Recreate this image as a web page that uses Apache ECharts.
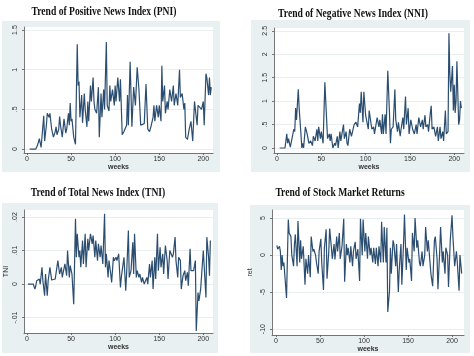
<!DOCTYPE html>
<html><head><meta charset="utf-8">
<script src="https://cdn.jsdelivr.net/npm/echarts@6/dist/echarts.min.js"></script>
<style>html,body{margin:0;padding:0;background:#fff}#c{width:474px;height:356px}</style>
</head><body><div id="c"></div>
<script>
const xTicks = [0, 50, 100, 150, 200];
const pniTicks = [0, 0.5, 1, 1.5];
const nniTicks = [0, 0.5, 1, 1.5, 2, 2.5];
const tniTicks = [-0.01, 0, 0.01, 0.02];
const retTicks = [-10, -5, 0, 5];

const titles = ['Trend of Positive News Index (PNI)', 'Trend of Negative News Index (NNI)', 'Trend of Total News Index (TNI)', 'Trend of Stock Market Returns'];

const pniWeeks = [3,10,12,14,16,17,19,20,22,23,25,26,28,30,32,33,34,36,37,38,40,42,44,45,47,48,49,50,51,53,55,57,58,59,60,62,63,65,66,68,69,70,72,73,75,76,77,79,81,82,84,85,87,88,90,91,93,94,95,97,99,100,101,103,105,106,108,110,112,113,114,115,117,119,121,123,125,127,129,131,133,135,137,139,141,143,144,145,147,149,150,152,153,154,156,157,159,160,162,164,166,167,169,171,173,174,176,178,179,180,182,184,186,188,190,191,193,194,196,198,200,201,203,204,206,207,208,209];
const pniValues = [0,0,0.05,0.13,0.02,0,0.42,0.1,0.3,0.45,0.4,0.45,0.25,0.15,0.22,0.28,0.18,0.25,0.41,0.3,0.15,0.38,0.2,0.25,0.45,0.3,0.58,0.35,0.38,0.15,0.06,1.32,0.8,0.85,0.4,0.68,0.33,0.7,0.5,0.28,0.6,0.35,0.8,0.6,0.9,0.6,0.5,0.45,0.78,0.15,0.7,0.4,0.75,0.5,1.35,0.55,0.48,0.8,0.6,0.75,0.55,0.8,0.6,0.9,0.6,0.88,0.18,0.22,0.2,0.3,0.68,0.3,1.1,0.28,0.78,0.55,1.03,0.75,0.3,0.3,0.32,0.82,0.25,0.22,0.3,0.4,0.55,0.35,0.55,0.4,0.55,0.35,1.05,0.6,0.8,0.45,0.6,0.5,0.75,0.6,0.8,0.55,0.7,0.55,1.0,0.65,0.7,0.5,0.58,0.15,0.12,0.25,0.35,0.1,0.6,0.5,0.3,0.55,0.55,0.5,0.6,0.3,0.95,0.9,0.68,0.9,0.68,0.78];

const nniWeeks = [3,9,11,12,13,15,17,19,20,21,22,24,25,27,28,29,30,32,34,36,38,40,41,43,45,46,47,49,50,52,54,56,57,59,60,61,63,65,66,68,69,71,72,75,76,78,79,80,82,84,87,89,91,93,94,95,97,98,100,101,103,104,106,107,109,110,112,113,115,116,118,119,120,122,123,125,127,128,129,131,133,134,136,137,139,140,142,143,145,146,148,149,151,153,155,157,158,160,162,164,165,167,168,170,171,173,174,175,177,179,181,182,184,185,187,188,190,191,193,194,195,196,198,199,200,201,202,203,205,206,207,208];
const nniValues = [0,0,0.3,0.1,0.2,0.02,0,0.4,0.35,0.85,0.6,1.25,0.85,0.3,0,0.1,0,0.45,0.3,0.1,0.15,0.05,0.25,0.15,0.4,0.15,0.45,0.2,0.35,0.1,1.4,0.6,0.2,0.3,0.15,0.3,0,0.1,0.05,0.25,0,0.35,0.15,0.5,0.2,0.35,0.1,0.05,0.4,0.25,0.5,0.55,0.45,0.95,0.75,1.2,0.55,1.2,0.7,0.6,0.4,0.8,0.8,0.4,0.45,0.3,0.3,0.65,0.45,0.6,0.3,0.72,0.3,0.72,0.3,1.65,0.7,0.1,0.4,0.45,1.25,0.6,0.35,0.55,0.25,0.4,0.65,0.4,1.1,0.5,0.85,0.3,0.6,0.4,0.3,0.5,0.3,0.65,0.45,0.6,0.4,0.7,0.45,0.5,0.35,0.75,0.9,0.4,0.45,0.25,0.45,0.15,0.45,0.2,0.35,0.15,0.8,0.3,0.35,2.45,1.6,1.2,1.75,0.8,1.35,0.75,1.0,1.85,0.5,0.6,1.0,0.85];

const tniWeeks = [1,7,9,10,11,12,14,15,17,18,20,21,23,24,26,28,30,32,34,35,37,39,40,42,43,45,46,48,49,51,53,55,56,57,59,60,61,63,64,66,67,69,70,72,74,75,77,78,80,81,83,84,86,88,89,90,92,93,95,96,98,99,101,102,104,106,107,109,110,112,113,115,116,118,120,121,122,124,125,127,128,130,131,133,135,136,137,139,140,142,143,145,146,148,149,151,152,154,155,157,159,160,162,163,165,166,168,169,171,172,174,175,177,179,180,182,183,185,186,188,189,191,192,194,195,197,198,200,201,203,204,206,207,208];
const tniValues = [0,0,-0.0015,-0.0005,0.001,0.0005,0.0015,0,0.005,0.001,-0.0035,0.003,-0.0035,0.001,0.005,0.0012,0.001,0.0015,0.0015,0.007,0.003,0.005,0.002,0.0015,0.006,0.0025,0.01,0.002,0.0055,0.003,-0.006,0.0195,0.008,0.015,0.008,0.01,0.005,0.013,0.006,0.015,0.005,0.0135,0.01,0.015,0.012,0.0145,0.008,0.013,0.007,0.012,0.008,0.0115,0.006,0.021,0.005,0.009,0.002,0.007,0.003,0.0005,0.008,0.007,0.008,0.007,0.009,-0.001,0.002,0.002,0.008,-0.002,0.003,0.016,0.002,0.004,0.0125,0.003,0.015,0.002,0.004,0.002,0.003,0.0005,0.002,0,-0.0005,0.002,0,0.006,0.002,0.007,-0.0015,0.008,0.0015,0.015,0.004,0.011,0.005,0.009,0.003,0.0115,0.007,0.0015,0.01,0.01,0.008,0.009,0.014,0.007,0.002,0.008,0.007,-0.0015,0.0025,0.004,0.001,0.0035,-0.0005,0.0105,0.004,0.0045,0.004,0.007,-0.014,-0.0025,-0.005,-0.0015,-0.001,0.01,0.0095,-0.004,0.014,0.008,0.0025,0.013];

const retWeeks = [1,2,4,5,6,7,8,9,10,12,14,15,17,18,20,21,22,24,25,27,28,29,31,33,34,36,37,39,40,42,43,45,46,48,49,51,52,54,55,57,58,60,61,63,64,66,67,69,70,72,73,75,77,78,80,81,82,84,85,87,88,90,91,93,95,96,98,99,101,102,104,105,107,108,110,111,113,114,116,117,119,120,122,123,125,126,127,129,130,131,133,134,136,137,139,140,142,143,145,146,148,149,151,152,154,155,157,158,160,161,163,164,166,167,169,170,172,173,175,176,178,180,181,183,184,186,187,189,190,192,193,195,196,198,200,201,203,205,206,208,209,211];
const retValues = [1.3,0.8,1.2,0.5,-2.0,0,-1.5,-1.0,-1.2,-5.8,4.8,3.0,2.5,0,-1.5,1.5,2.8,-1.5,4.6,-1.0,2.0,-0.5,1.2,-4.0,-0.5,-2.5,0,-3.0,2.5,0.5,0.8,0,-1.0,-2.5,0.5,2.2,-1.0,-4.7,1.0,3.5,-3.2,0.5,3.6,1.0,-0.5,1.5,-0.6,2.5,0.5,3.0,-0.5,1.2,4.9,-3.6,1.5,0,1.0,-1.0,1.2,-1.5,0.5,1.8,-0.5,0.8,-3.5,4.9,0,4.8,0.5,3.0,-0.5,2.5,0,1.0,-1.0,1.0,-1.2,1.0,-1.5,1.2,-1.0,4.5,-1.0,3.8,-1.0,3.7,-7.7,-4.8,1.0,-2.5,2.0,1.5,-1.5,1.5,-5.0,-2.0,1.5,-4.0,1.8,5.5,-2.0,1.0,-1.0,-0.5,-3.5,3.0,0.5,5.0,1.0,2.0,-1.0,-1.5,0.5,-1.5,0,3.8,0.5,2.0,-1.0,-2.5,-4.2,2.0,2.5,-0.5,-4.6,0.5,3.8,-1.0,0.5,-2.5,1.0,0,-4.3,2.0,5.4,2.5,-1.5,0.5,-1.0,-4.8,0,-2.5];

function zip(w, v) { return w.map((x, i) => [x, v[i]]); }
function fmt(v) { return String(v).replace(/^(-?)0\./, '$1.'); }

const LINE = '#2b4e70';
const AX = '#555';
const FONT = 'Liberation Sans';

const grids = [
  {left: 24, top: 27, width: 189, height: 126},
  {left: 274, top: 28, width: 190, height: 125},
  {left: 24, top: 210, width: 189, height: 123},
  {left: 272, top: 210, width: 192, height: 125}
];
const frames = [[2, 21, 218, 151], [251, 20, 219, 152], [2, 203, 216, 150], [250, 205, 220, 148]];
const titlePos = [[104, 12], [353, 14], [98, 193], [340, 193]];

function xAx(i, min, max, gap) {
  return {
    type: 'value', gridIndex: i, min: min, max: max,
    name: 'weeks', nameLocation: 'middle', nameGap: gap,
    nameTextStyle: {fontSize: 7, color: '#333', fontFamily: FONT, fontWeight: 'bold'},
    axisLine: {show: true, onZero: false, lineStyle: {color: AX, width: 0.8}},
    axisTick: {show: true, length: 2, customValues: xTicks, lineStyle: {color: AX, width: 0.8}},
    axisLabel: {customValues: xTicks, fontSize: 7, color: '#333', margin: 3, fontFamily: FONT},
    splitLine: {show: false}
  };
}
function yAx(i, min, max, ticks, name, gap) {
  return {
    type: 'value', gridIndex: i, min: min, max: max,
    name: name, nameLocation: 'middle', nameGap: gap, nameRotate: 90,
    nameTextStyle: {fontSize: 7, color: '#333', fontFamily: FONT},
    axisLine: {show: true, onZero: false, lineStyle: {color: AX, width: 0.8}},
    axisTick: {show: true, length: 2, customValues: ticks, lineStyle: {color: AX, width: 0.8}},
    axisLabel: {customValues: ticks, rotate: 90, fontSize: 7, color: '#333', margin: 5, fontFamily: FONT, formatter: fmt},
    splitLine: {show: true, lineStyle: {color: '#e3eaed', width: 0.8}}
  };
}
function ser(i, w, v) {
  return {type: 'line', xAxisIndex: i, yAxisIndex: i, data: zip(w, v), showSymbol: false, silent: true,
    lineStyle: {color: LINE, width: 1.2}, animation: false};
}

const graphic = [];
frames.forEach(f => graphic.push({type: 'rect', z: -10, silent: true, shape: {x: f[0], y: f[1], width: f[2], height: f[3]}, style: {fill: '#e9f0f2'}}));
titles.forEach((t, i) => graphic.push({type: 'text', z: 10, silent: true, x: titlePos[i][0], y: titlePos[i][1], scaleX: 0.8,
  style: {text: t, x: 0, y: 0, textAlign: 'center', textVerticalAlign: 'middle', font: 'bold 12px "Liberation Serif"', fill: '#111'}}));

const chart = echarts.init(document.getElementById('c'), null, {renderer: 'canvas'});
chart.setOption({
  animation: false,
  backgroundColor: '#fff',
  graphic: graphic,
  grid: grids.map(g => Object.assign({show: true, backgroundColor: '#fff', borderWidth: 0}, g)),
  xAxis: [xAx(0, -3.4, 211, 10), xAx(1, -3.4, 211, 10), xAx(2, -3.4, 211, 10), xAx(3, -4.5, 213.6, 10)],
  yAxis: [
    yAx(0, -0.05, 1.538, pniTicks, '', 10),
    yAx(1, -0.107, 2.56, nniTicks, '', 10),
    yAx(2, -0.0146, 0.0221, tniTicks, 'TNI', 14),
    yAx(3, -10.8, 6.1, retTicks, 'ret', 18)
  ],
  series: [ser(0, pniWeeks, pniValues), ser(1, nniWeeks, nniValues), ser(2, tniWeeks, tniValues), ser(3, retWeeks, retValues)]
});
</script></body></html>
